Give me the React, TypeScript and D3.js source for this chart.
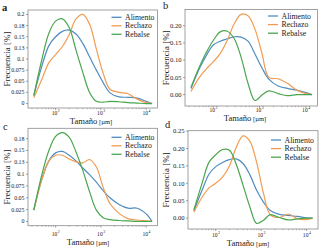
import React from 'react';
import * as d3 from 'd3';

// particle sizes (µm) shared by all curves
const sizes = [33, 50, 71, 100, 141, 200, 282, 398, 562, 794, 1122, 1585, 2512, 3981, 6310, 10000, 13490];
const seriesNames = ['Alimento', 'Rechazo', 'Rebalse'];
const colors = ['#4f8dc0', '#f19c52', '#4aa64e'];

// panel a
const aAlimento = [0.018, 0.085, 0.13, 0.15, 0.162, 0.165, 0.156, 0.135, 0.105, 0.075, 0.047, 0.024, 0.015, 0.014, 0.012, 0.005, 0];
const aRechazo = [0.013, 0.055, 0.092, 0.11, 0.128, 0.155, 0.19, 0.2, 0.178, 0.122, 0.068, 0.032, 0.025, 0.022, 0.01, 0.002, 0];
const aRebalse = [0.018, 0.1, 0.158, 0.185, 0.19, 0.17, 0.12, 0.07, 0.025, 0.005, 0.003, 0.005, 0.004, 0.002, 0.001, 0, 0];
// panel b
const bAlimento = [0.018, 0.075, 0.114, 0.144, 0.155, 0.162, 0.168, 0.167, 0.155, 0.118, 0.078, 0.045, 0.025, 0.018, 0.013, 0.006, 0];
const bRechazo = [0.009, 0.05, 0.075, 0.095, 0.119, 0.157, 0.205, 0.233, 0.229, 0.19, 0.12, 0.05, 0.046, 0.033, 0.013, 0.003, 0];
const bRebalse = [0.021, 0.08, 0.123, 0.157, 0.182, 0.184, 0.163, 0.109, 0.033, -0.017, -0.001, 0.011, 0.003, -0.003, 0, 0, 0];
// panel c
const cAlimento = [0.024, 0.09, 0.128, 0.145, 0.148, 0.14, 0.128, 0.113, 0.099, 0.083, 0.065, 0.05, 0.036, 0.028, 0.028, 0.016, 0];
const cRechazo = [0.024, 0.09, 0.128, 0.14, 0.14, 0.132, 0.126, 0.124, 0.131, 0.115, 0.072, 0.038, 0.017, 0.006, 0.003, 0.001, 0];
const cRebalse = [0.024, 0.1, 0.15, 0.18, 0.188, 0.178, 0.147, 0.108, 0.063, 0.024, 0.008, 0.004, 0.002, 0.001, 0, 0, 0];
// panel d
const dAlimento = [0.021, 0.08, 0.126, 0.148, 0.16, 0.168, 0.17, 0.157, 0.125, 0.08, 0.046, 0.022, 0.011, 0.008, 0.005, 0.001, 0];
const dRechazo = [0.017, 0.06, 0.087, 0.1, 0.118, 0.15, 0.203, 0.236, 0.221, 0.16, 0.072, 0.01, 0.002, 0.012, -0.002, -0.004, 0];
const dRebalse = [0.024, 0.1, 0.16, 0.182, 0.197, 0.195, 0.155, 0.095, 0.033, -0.015, -0.006, 0.01, 0.002, -0.005, -0.002, 0, 0];

// tick values and labels
const yTicksAC = [0, 0.025, 0.05, 0.075, 0.1, 0.125, 0.15, 0.175, 0.2];
const yLabelsAC = ['0', '0.025', '0.05', '0.075', '0.1', '0.13', '0.15', '0.18', '0.2'];
const yTicksBD = [0, 0.05, 0.1, 0.15, 0.2, 0.25];
const yLabelsBD = ['0.00', '0.05', '0.10', '0.15', '0.20', '0.25'];
const xTicks = [100, 1000, 10000];
const xTickExps = ['2', '3', '4'];

const FONT = '"Liberation Serif", "DejaVu Serif", serif';

type PanelProps = {
  letter: string;
  letterPos: [number, number];
  letterWeight: string;
  box: { l: number; r: number; t: number; b: number };
  yDomain: [number, number];
  yTicks: number[];
  yLabels: string[];
  data: number[][];
  tickFs: number;
  ylabX: number;
  xlabX: number;
  xlabY: number;
  xtickY: number;
  legend: { x: number; y: number; dy: number };
};

function Panel(p: PanelProps) {
  const { box } = p;
  const x = d3.scaleLog().domain([Math.pow(10, 1.39), Math.pow(10, 4.25)]).range([box.l, box.r]);
  const y = d3.scaleLinear().domain(p.yDomain).range([box.b, box.t]);
  const line = d3
    .line<number>()
    .x((_, i) => x(sizes[i]))
    .y((d) => y(d))
    .curve(d3.curveCatmullRom.alpha(0.5));
  const minor: number[] = [];
  [10, 100, 1000, 10000].forEach((dec) => {
    for (let k = 2; k <= 9; k++) {
      const v = dec * k;
      if (v > x.domain()[0] && v < x.domain()[1]) minor.push(v);
    }
  });
  const ylTicks = p.yTicks.filter((t) => t >= p.yDomain[0] && t <= p.yDomain[1]);
  return (
    <g>
      <text x={p.letterPos[0]} y={p.letterPos[1]} fontFamily={FONT} fontSize={10.5} fontWeight={p.letterWeight} fill="#222">
        {p.letter}
      </text>
      <rect x={box.l} y={box.t} width={box.r - box.l} height={box.b - box.t} fill="white" stroke="#8a8a8a" strokeWidth={0.8} />
      {ylTicks.map((t, i) => (
        <g key={'yt' + i}>
          <line x1={box.l - 2} x2={box.l} y1={y(t)} y2={y(t)} stroke="#666" strokeWidth={0.6} />
          <text x={box.l - 3.5} y={y(t)} dy="0.33em" textAnchor="end" fontFamily={FONT} fontSize={p.tickFs} fill="#222">
            {p.yLabels[p.yTicks.indexOf(t)]}
          </text>
        </g>
      ))}
      {minor.map((v, i) => (
        <line key={'mt' + i} x1={x(v)} x2={x(v)} y1={box.b} y2={box.b + 1.2} stroke="#777" strokeWidth={0.5} />
      ))}
      {xTicks.map((v, i) => (
        <g key={'xt' + i}>
          <line x1={x(v)} x2={x(v)} y1={box.b} y2={box.b + 2} stroke="#666" strokeWidth={0.6} />
          <text x={x(v) - 1} y={p.xtickY} textAnchor="middle" fontFamily={FONT} fontSize={5.6} fill="#222">
            10
          </text>
          <text x={x(v) + 3.2} y={p.xtickY - 2.6} textAnchor="middle" fontFamily={FONT} fontSize={3.8} fill="#222">
            {xTickExps[i]}
          </text>
        </g>
      ))}
      {p.data.map((s, i) => (
        <path key={'s' + i} d={line(s) || ''} fill="none" stroke={colors[i]} strokeWidth={1.2} />
      ))}
      {seriesNames.map((n, i) => (
        <g key={'lg' + i}>
          <line
            x1={p.legend.x}
            x2={p.legend.x + 10}
            y1={p.legend.y + i * p.legend.dy}
            y2={p.legend.y + i * p.legend.dy}
            stroke={colors[i]}
            strokeWidth={1.3}
          />
          <text
            x={p.legend.x + 13.5}
            y={p.legend.y + i * p.legend.dy}
            dy="0.33em"
            fontFamily={FONT}
            fontSize={7.8}
            fill="#222"
          >
            {n}
          </text>
        </g>
      ))}
      <text
        transform={`translate(${p.ylabX},${(box.t + box.b) / 2}) rotate(-90)`}
        textAnchor="middle"
        dy="0.33em"
        fontFamily={FONT}
        fontSize={9}
        fill="#222"
      >
        Frecuencia [%]
      </text>
      <text x={p.xlabX} y={p.xlabY} textAnchor="middle" fontFamily={FONT} fontSize={8.6} fill="#222">
        Tamaño<tspan fontSize={6.6}> [µm]</tspan>
      </text>
    </g>
  );
}

export default function App() {
  const panels: PanelProps[] = [
    {
      letter: 'a',
      letterPos: [2, 11],
      letterWeight: 'bold',
      box: { l: 28, r: 157.5, t: 10, b: 108 },
      yDomain: [-0.01, 0.21],
      yTicks: yTicksAC,
      yLabels: yLabelsAC,
      data: [aAlimento, aRechazo, aRebalse],
      tickFs: 5.9,
      ylabX: 7,
      xlabX: 91,
      xlabY: 124,
      xtickY: 115,
      legend: { x: 111.5, y: 17.3, dy: 8.5 },
    },
    {
      letter: 'b',
      letterPos: [163, 9],
      letterWeight: 'normal',
      box: { l: 185, r: 317.5, t: 9.5, b: 106 },
      yDomain: [-0.033, 0.247],
      yTicks: yTicksBD,
      yLabels: yLabelsBD,
      data: [bAlimento, bRechazo, bRebalse],
      tickFs: 6.6,
      ylabX: 166,
      xlabX: 245,
      xlabY: 121,
      xtickY: 112,
      legend: { x: 268, y: 16, dy: 8.6 },
    },
    {
      letter: 'c',
      letterPos: [3, 130],
      letterWeight: 'normal',
      box: { l: 28, r: 157.5, t: 128.3, b: 225.7 },
      yDomain: [-0.009, 0.197],
      yTicks: yTicksAC,
      yLabels: yLabelsAC,
      data: [cAlimento, cRechazo, cRebalse],
      tickFs: 5.9,
      ylabX: 7,
      xlabX: 88,
      xlabY: 244.5,
      xtickY: 235.5,
      legend: { x: 111.5, y: 137.3, dy: 8.5 },
    },
    {
      letter: 'd',
      letterPos: [165, 128],
      letterWeight: 'normal',
      box: { l: 188, r: 318, t: 130.7, b: 229 },
      yDomain: [-0.031, 0.251],
      yTicks: yTicksBD,
      yLabels: yLabelsBD,
      data: [dAlimento, dRechazo, dRebalse],
      tickFs: 6.6,
      ylabX: 166,
      xlabX: 248,
      xlabY: 246,
      xtickY: 237,
      legend: { x: 271, y: 140, dy: 8.6 },
    },
  ];
  return (
    <svg width={322} height={250} style={{ position: 'absolute', left: 0, top: 0, background: 'white' }}>
      <rect width={322} height={250} fill="white" />
      {panels.map((p) => (
        <Panel key={p.letter} {...p} />
      ))}
    </svg>
  );
}
